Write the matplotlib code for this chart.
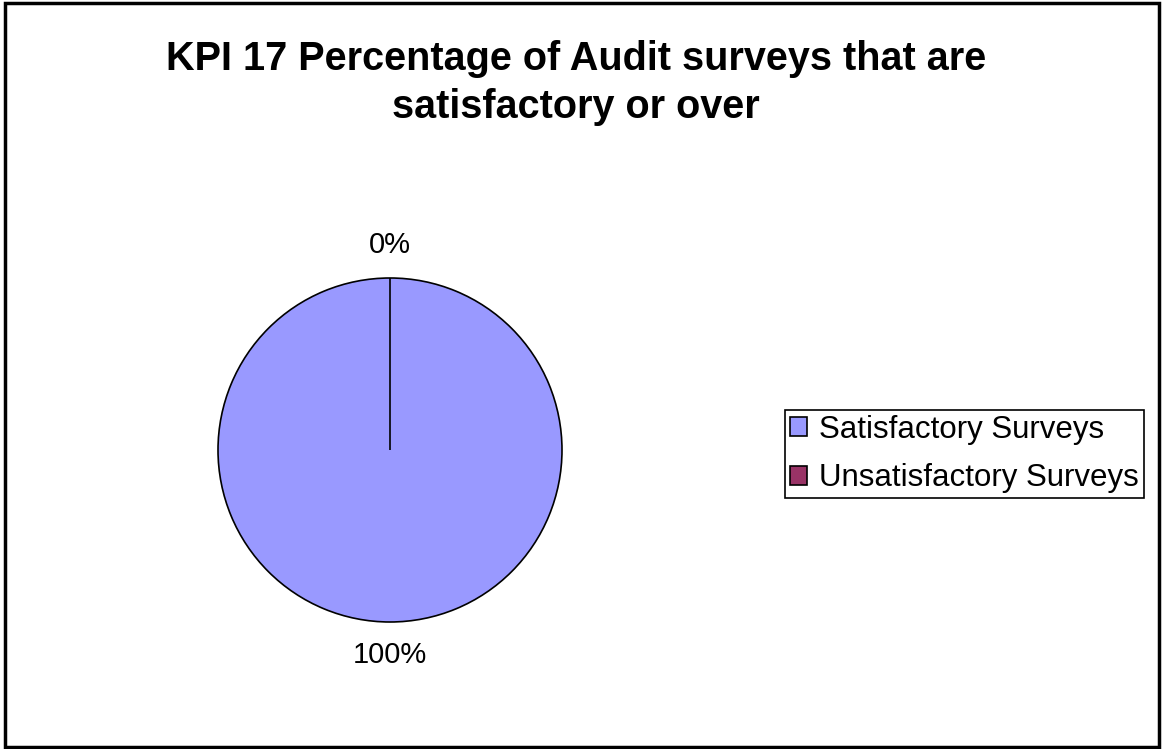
import matplotlib as mpl
import matplotlib.pyplot as plt
from matplotlib.patches import Rectangle

# chart data
labels = ['Satisfactory Surveys', 'Unsatisfactory Surveys']
values = [100, 0]
colors = ['#9999FF', '#993366']
title = 'KPI 17 Percentage of Audit surveys that are\nsatisfactory or over'

mpl.rcParams['font.family'] = ['Liberation Sans', 'DejaVu Sans']

W, H = 1162, 749
fig = plt.figure(figsize=(W / 100, H / 100), dpi=100)

# outer chart border
fig.patches.append(Rectangle((5 / W, 2 / H), 1154 / W, 744 / H, transform=fig.transFigure,
                             fill=False, edgecolor='black', linewidth=2.5))

# pie axes: centre (390, 450), radius 172 px
cx, cy, r = 390, 450, 172
ax = fig.add_axes([(cx - r) / W, (H - cy - r) / H, 2 * r / W, 2 * r / H])
wedges, texts, autotexts = ax.pie(values, colors=colors, startangle=90, counterclock=False,
                                  autopct='%1.0f%%', pctdistance=1.19, radius=1,
                                  wedgeprops=dict(edgecolor='black', linewidth=1.2),
                                  textprops=dict(fontsize=21))
ax.set_xlim(-1, 1)
ax.set_ylim(-1, 1)
ax.set_aspect('equal')
for t in autotexts:
    t.set_clip_on(False)

fig.text(576 / W, 1 - 83 / H, title, ha='center', va='center', fontsize=28.5,
         fontweight='bold', linespacing=1.33)

lg = fig.legend(wedges, labels, loc='upper left', bbox_to_anchor=(785 / W, 1 - 410 / H),
                fontsize=22.5, fancybox=False, edgecolor='black', framealpha=1,
                handlelength=0.55, handleheight=0.55, handletextpad=0.4,
                borderpad=0.15, labelspacing=0.6, borderaxespad=0)
lg.get_frame().set_linewidth(1.2)

fig.savefig('out.png', dpi=100)
